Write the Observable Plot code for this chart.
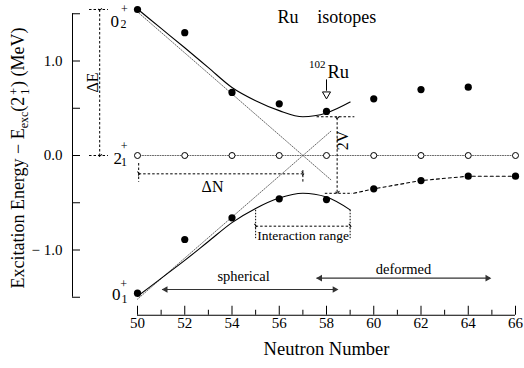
<!DOCTYPE html>
<html><head><meta charset="utf-8">
<script src="https://cdn.jsdelivr.net/npm/d3@7"></script>
<script src="https://cdn.jsdelivr.net/npm/@observablehq/plot@0.6"></script>
<style>
html,body{margin:0;padding:0;background:#fff;}
#chart{width:524px;height:368px;}
#chart svg, #chart svg text {font-family: 'Liberation Serif', 'Times New Roman', serif !important;}
</style>
</head><body><div id="chart"></div>
<script>
// ---------- data ----------
const neutronNumbers = [50, 52, 54, 56, 58, 60, 62, 64, 66];
const level21E = [0, 0, 0, 0, 0, 0, 0, 0, 0];
const level02N = [50, 52, 54, 56, 58, 60, 62, 64];
const level02E = [1.545, 1.30, 0.667, 0.547, 0.466, 0.60, 0.698, 0.723];
const level01N = [50, 52, 54, 56, 58, 60, 62, 64, 66];
const level01E = [-1.457, -0.889, -0.66, -0.458, -0.466, -0.353, -0.265, -0.219, -0.219];
const mixN = [50, 51, 52, 53, 54, 55, 56, 57, 58, 59];
const mixUpperE = [1.55, 1.345, 1.14, 0.93, 0.72, 0.58, 0.475, 0.41, 0.45, 0.565];
const mixLowerE = [-1.49, -1.30, -1.11, -0.91, -0.71, -0.56, -0.45, -0.40, -0.44, -0.575];
const deformedN = [59.15, 60, 62, 64, 66];
const deformedE = [-0.40, -0.353, -0.265, -0.219, -0.219];
const unmixedN = [50, 58.2];
const unmixedAE = [1.52, -0.26];
const unmixedBE = [-1.52, 0.26];
const crossingN = 57;
const xTicksMajor = [50, 52, 54, 56, 58, 60, 62, 64, 66];
const xTicksMinor = [51, 53, 55, 57, 59, 61, 63, 65];
const yTicks = [-1.5, -1, -0.5, 0, 0.5, 1, 1.5];
const yTickValues = [-1, 0, 1];
const yTickLabels = ["\u2212 1.0", "0.0", "1.0"];
const titleWords = ["Ru", "isotopes"];
const levelMain = ["0", "2", "0"];
const levelSub = ["2", "1", "1"];
const regionLabels = ["spherical", "deformed"];

// ---------- helpers ----------
const pts = (N, E) => N.map((n, i) => ({N: n, E: E[i]}));
const font = "'Liberation Serif', 'Times New Roman', serif";
const dash = "2.5,2";
const grey = "#333";

const plot = Plot.plot({
  width: 524, height: 368,
  marginLeft: 137, marginRight: 9, marginTop: 13.25, marginBottom: 71.25,
  x: {domain: [50, 66], axis: null},
  y: {domain: [-1.5, 1.5], axis: null},
  style: {fontFamily: font, background: "white", color: "black"},
  marks: [
    // ---- axes (detached) ----
    Plot.ruleX([50], {x: d => d, y1: -1.5, y2: 1.5, dx: -65, stroke: "black"}),
    Plot.tickY(yTicks, {y: d => d, dx: -65, insetRight: 370, stroke: "black"}),
    Plot.text(yTickValues, {y: d => d, text: (d, i) => yTickLabels[i], frameAnchor: "left", textAnchor: "end", dx: -75, fontSize: 15, fontFamily: font}),
    Plot.ruleY([-1.5], {y: d => d, x1: 50, x2: 66, dy: 18, stroke: "black"}),
    Plot.tickX(xTicksMajor, {x: d => d, insetTop: 274.5, dy: 18, stroke: "black"}),
    Plot.tickX(xTicksMinor, {x: d => d, insetTop: 278.5, dy: 18, stroke: "black"}),
    Plot.text(xTicksMajor, {x: d => d, text: d => String(d), frameAnchor: "bottom", dy: 31, fontSize: 15, fontFamily: font}),
    Plot.text(["Neutron Number"], {frameAnchor: "bottom", dy: 58, fontSize: 18.5, fontFamily: font}),

    // ---- unmixed (dotted) crossing lines ----
    Plot.line(pts(unmixedN, unmixedAE), {x: "N", y: "E", stroke: "#555", strokeDasharray: "1,1.5", strokeWidth: 0.9}),
    Plot.line(pts(unmixedN, unmixedBE), {x: "N", y: "E", stroke: "#555", strokeDasharray: "1,1.5", strokeWidth: 0.9}),
    // 2+ reference level
    Plot.line(pts(neutronNumbers, level21E), {x: "N", y: "E", stroke: "#555", strokeDasharray: "1,1.5", strokeWidth: 0.9}),
    // ---- mixing curves ----
    Plot.line(pts(mixN, mixUpperE), {x: "N", y: "E", curve: "monotone-x", stroke: "black", strokeWidth: 1.1}),
    Plot.line(pts(mixN, mixLowerE), {x: "N", y: "E", curve: "monotone-x", stroke: "black", strokeWidth: 1.1}),
    Plot.line(pts(deformedN, deformedE), {x: "N", y: "E", stroke: "black", strokeDasharray: "3,3", strokeWidth: 1.1}),

    // ---- data points ----
    Plot.dot(pts(neutronNumbers, level21E), {x: "N", y: "E", r: 3, stroke: "black", fill: "white", strokeWidth: 1}),
    Plot.dot(pts(level02N, level02E), {x: "N", y: "E", r: 3.6, fill: "black"}),
    Plot.dot(pts(level01N, level01E), {x: "N", y: "E", r: 3.6, fill: "black"}),

    // ---- title ----
    Plot.text([titleWords[0]], {x: 55.93, y: 1.397, textAnchor: "start", lineAnchor: "bottom", fontSize: 18, fontFamily: font}),
    Plot.text([titleWords[1]], {x: 57.61, y: 1.397, textAnchor: "start", lineAnchor: "bottom", fontSize: 18, fontFamily: font}),

    // ---- 102Ru marker ----
    Plot.text(["102"], {x: 57.96, y: 0.931, textAnchor: "end", lineAnchor: "bottom", fontSize: 11, fontFamily: font}),
    Plot.text(["Ru"], {x: 58.04, y: 0.825, textAnchor: "start", lineAnchor: "bottom", fontSize: 18.5, fontFamily: font}),
    Plot.ruleX([58], {x: d => d, y1: 0.80, y2: 0.68, stroke: "black", strokeWidth: 1}),
    Plot.dot([58], {x: d => d, y: 0.648, symbol: "triangle", rotate: 180, r: 3, fill: "white", stroke: "black", strokeWidth: 1}),

    // ---- level labels ----
    Plot.text([levelMain[0]], {x: 48.857, y: 1.365, textAnchor: "start", lineAnchor: "bottom", fontSize: 17, fontFamily: font}),
    Plot.text([levelSub[0]], {x: 49.28, y: 1.354, textAnchor: "start", lineAnchor: "bottom", fontSize: 12, fontFamily: font}),
    Plot.text(["+"], {x: 49.45, y: 1.545, fontSize: 12, fontFamily: font}),
    Plot.text([levelMain[1]], {x: 48.984, y: -0.085, textAnchor: "start", lineAnchor: "bottom", fontSize: 17, fontFamily: font}),
    Plot.text([levelSub[1]], {x: 49.30, y: -0.116, textAnchor: "start", lineAnchor: "bottom", fontSize: 12, fontFamily: font}),
    Plot.text(["+"], {x: 49.43, y: 0.095, fontSize: 12, fontFamily: font}),
    Plot.text([levelMain[2]], {x: 48.92, y: -1.534, textAnchor: "start", lineAnchor: "bottom", fontSize: 17, fontFamily: font}),
    Plot.text([levelSub[2]], {x: 49.32, y: -1.566, textAnchor: "start", lineAnchor: "bottom", fontSize: 12, fontFamily: font}),
    Plot.text(["+"], {x: 49.41, y: -1.365, fontSize: 12, fontFamily: font}),

    // ---- ΔE ----
    Plot.ruleY([level02E[0], 0], {y: d => d, x1: 47.97, x2: 48.77, stroke: "black", strokeDasharray: dash}),
    Plot.link([0], {x1: 48.40, x2: 48.40, y1: level02E[0], y2: 0, stroke: "black", strokeDasharray: dash, markerStart: "arrow", markerEnd: "arrow"}),
    Plot.text(["\u0394E"], {x: 48.095, y: 0.772, rotate: -90, fontSize: 16, fontFamily: font}),

    // ---- ΔN ----
    Plot.link([0], {x1: 50.05, x2: crossingN, y1: -0.194, y2: -0.194, stroke: "black", strokeDasharray: dash, markerStart: "arrow", markerEnd: "arrow"}),
    Plot.ruleX([50.05], {x: d => d, y1: -0.085, y2: -0.283, stroke: "black", strokeDasharray: dash}),
    Plot.ruleX([crossingN], {x: d => d, y1: -0.16, y2: -0.283, stroke: "black", strokeDasharray: dash}),
    Plot.text(["\u0394N"], {x: 53.175, y: -0.328, fontSize: 16, fontFamily: font}),

    // ---- 2V ----
    Plot.link([0], {x1: 58.45, x2: 58.45, y1: mixUpperE[7] - 0.01, y2: mixLowerE[7] + 0.01, stroke: "black", strokeDasharray: dash, markerStart: "arrow", markerEnd: "arrow"}),
    Plot.ruleY([mixUpperE[7]], {y: d => d, x1: 57.6, x2: 59.2, stroke: "black", strokeDasharray: dash}),
    Plot.ruleY([mixLowerE[7]], {y: d => d, x1: 57.95, x2: 59.1, stroke: "black", strokeDasharray: dash}),
    Plot.text(["2V"], {x: 58.677, y: 0.159, rotate: -90, fontSize: 16, fontFamily: font}),

    // ---- Interaction range ----
    Plot.link([0], {x1: 55, x2: 59, y1: -0.748, y2: -0.748, stroke: "black", strokeDasharray: dash, markerStart: "arrow", markerEnd: "arrow"}),
    Plot.ruleX([55, 59], {x: d => d, y1: -0.58, y2: -0.88, stroke: "black", strokeDasharray: "1.5,1.5"}),
    Plot.text(["Interaction range"], {x: 57.01, y: -0.847, fontSize: 13.5, fontFamily: font}),

    // ---- spherical / deformed ----
    Plot.ruleY([-1.418], {y: d => d, x1: 51.06, x2: 58.47, stroke: grey, strokeWidth: 1.1}),
    Plot.dot([51.06], {x: d => d, y: -1.418, symbol: "triangle2", rotate: -90, r: 3.2, fill: grey, dx: 3}),
    Plot.dot([58.47], {x: d => d, y: -1.418, symbol: "triangle2", rotate: 90, r: 3.2, fill: grey, dx: -3}),
    Plot.text([regionLabels[0]], {x: 54.49, y: -1.28, fontSize: 14.5, fontFamily: font}),
    Plot.ruleY([-1.298], {y: d => d, x1: 57.6, x2: 64.94, stroke: grey, strokeWidth: 1.1}),
    Plot.dot([57.6], {x: d => d, y: -1.298, symbol: "triangle2", rotate: -90, r: 3.2, fill: grey, dx: 3}),
    Plot.dot([64.94], {x: d => d, y: -1.298, symbol: "triangle2", rotate: 90, r: 3.2, fill: grey, dx: -3}),
    Plot.text([regionLabels[1]], {x: 61.26, y: -1.21, fontSize: 14.5, fontFamily: font})
  ]
});

// y-axis title with sub/superscripts
const svg = d3.select(plot);
const yl = svg.append("text")
  .attr("transform", "translate(24,158) rotate(-90)")
  .attr("text-anchor", "middle")
  .attr("font-family", font)
  .attr("font-size", 18)
  .attr("fill", "black");
yl.append("tspan").text("Excitation Energy \u2212 E");
yl.append("tspan").attr("font-size", 12).attr("dy", 4).text("exc");
yl.append("tspan").attr("dy", -4).text("(2");
yl.append("tspan").attr("font-size", 12).attr("dy", 5).attr("dx", 2).text("1");
yl.append("tspan").attr("font-size", 12).attr("dy", -11).attr("dx", -6).text("+");
yl.append("tspan").attr("dy", 6).attr("dx", 1).text(")");
yl.append("tspan").text(" (MeV)");

document.getElementById("chart").appendChild(plot);
</script>
</body></html>
